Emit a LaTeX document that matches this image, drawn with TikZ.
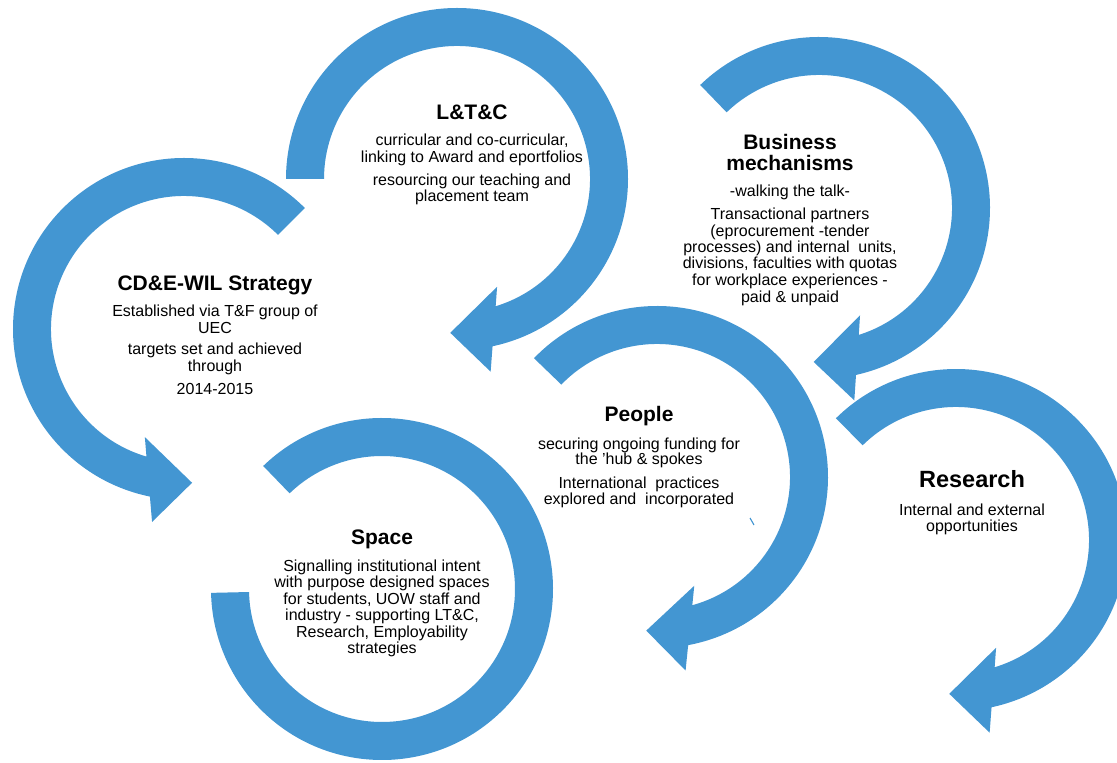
\documentclass[tikz,border=0pt]{standalone}
\usepackage{fontspec}
\setmainfont{Liberation Sans}
\definecolor{ringblue}{RGB}{67,150,210}
\tikzset{
  ttl/.style={font=\fontsize{21}{21}\selectfont\bfseries, anchor=base, inner sep=0pt},
  bigttl/.style={font=\fontsize{23.5}{23.5}\selectfont\bfseries, anchor=base, inner sep=0pt},
  body/.style={font=\fontsize{16}{16}\selectfont, anchor=base, inner sep=0pt},
  ringfill/.style={fill=ringblue, draw=none}
}
% clockwise circular arrow: centre x, centre y, tail angle, head angle
\newcommand\cwring[4]{%
  \fill[ringfill, shift={(#1,#2)}] (#3:171pt)
    arc[start angle=#3, end angle=#4, radius=171pt]
    -- ({#4-2.1}:195.6pt) -- ({#4-14.5}:154pt) -- ({#4+8.4}:115pt)
    -- ({#4+4.9}:133pt)
    arc[start angle={#4+4.9}, end angle=#3, radius=133pt] -- cycle;}
% counter-clockwise circular arrow
\newcommand\ccwring[4]{%
  \fill[ringfill, shift={(#1,#2)}] (#3:171pt)
    arc[start angle=#3, end angle=#4, radius=171pt]
    -- ({#4+2.1}:195.6pt) -- ({#4+14.5}:154pt) -- ({#4-8.4}:115pt)
    -- ({#4-4.9}:133pt)
    arc[start angle={#4-4.9}, end angle=#3, radius=133pt] -- cycle;}
\begin{document}
\begin{tikzpicture}[x=1pt,y=1pt]
\useasboundingbox (0,0) rectangle (1117,763);
\clip (0,0) rectangle (1117,763);
\fill[white] (0,0) rectangle (1117,763);

% rings
\ccwring{184}{434}{45}{258.5}          % CD&E-WIL
\cwring{457}{584}{180}{-78}            % L&T&C
\cwring{819}{555}{134}{-77.5}          % Business
\cwring{657}{286}{136}{-79.5}          % People
\cwring{956}{223}{134.6}{-78}          % Research
% Space ring (no head)
\fill[ringfill, shift={(382,174)}] (134:171pt)
  arc[start angle=134, end angle=-178.7, radius=171pt]
  -- (-178.7:133pt)
  arc[start angle=-178.7, end angle=134, radius=133pt] -- cycle;
% small mark inside People
\draw[ringblue, line width=1.1pt] (750,245) -- (754,238);

% CD&E-WIL
\node[ttl]  (cd0) at (215,472)   {CD\&E-WIL Strategy};
\node[body] (cd1) at (215,446.3) {Established via T\&F group of};
\node[body] (cd2) at (215,429.7) {UEC};
\node[body] (cd3) at (215,408)   {targets set and achieved};
\node[body] (cd4) at (215,391.3) {through};
\node[body] (cd5) at (215,368.7) {2014-2015};

% L&T&C
\node[ttl]  (lt0) at (472,643.7) {L\&T\&C};
\node[body] (lt1) at (472,617)   {curricular and co-curricular,};
\node[body] (lt2) at (472,600.7) {linking to Award and eportfolios};
\node[body] (lt3) at (472,577.3) {resourcing our teaching and};
\node[body] (lt4) at (472,561.3) {placement team};

% Business
\node[ttl]  (bu0) at (790,613.7) {Business};
\node[ttl]  (bu1) at (790,592)   {mechanisms};
\node[body] (bu2) at (790,566.3) {-walking the talk-};
\node[body] (bu3) at (790,543)   {Transactional partners};
\node[body] (bu4) at (790,526.3) {(eprocurement -tender};
\node[body] (bu5) at (790,510.3) {processes) and internal\ \ units,};
\node[body] (bu6) at (790,494)   {divisions, faculties with quotas};
\node[body] (bu7) at (790,477.3) {for workplace experiences -};
\node[body] (bu8) at (790,460.7) {paid \& unpaid};

% People
\node[ttl]  (pe0) at (639,341.3) {People};
\node[body] (pe1) at (639,313.7) {securing ongoing funding for};
\node[body] (pe2) at (639,298)   {the \char39 hub \& spokes};
\node[body] (pe3) at (639,274.7) {International\ \ practices};
\node[body] (pe4) at (639,258.7) {explored and\ \ incorporated};

% Space
\node[ttl]  (sp0) at (382,218)   {Space};
\node[body] (sp1) at (382,191.3) {Signalling institutional intent};
\node[body] (sp2) at (382,175.3) {with purpose designed spaces};
\node[body] (sp3) at (382,158.7) {for students, UOW staff and};
\node[body] (sp4) at (382,142)   {industry - supporting LT\&C,};
\node[body] (sp5) at (382,125.3) {Research, Employability};
\node[body] (sp6) at (382,109.7) {strategies};

% Research
\node[bigttl] (re0) at (972,275.7) {Research};
\node[body]   (re1) at (972,247.3) {Internal and external};
\node[body]   (re2) at (972,231.3) {opportunities};
\end{tikzpicture}
\end{document}
